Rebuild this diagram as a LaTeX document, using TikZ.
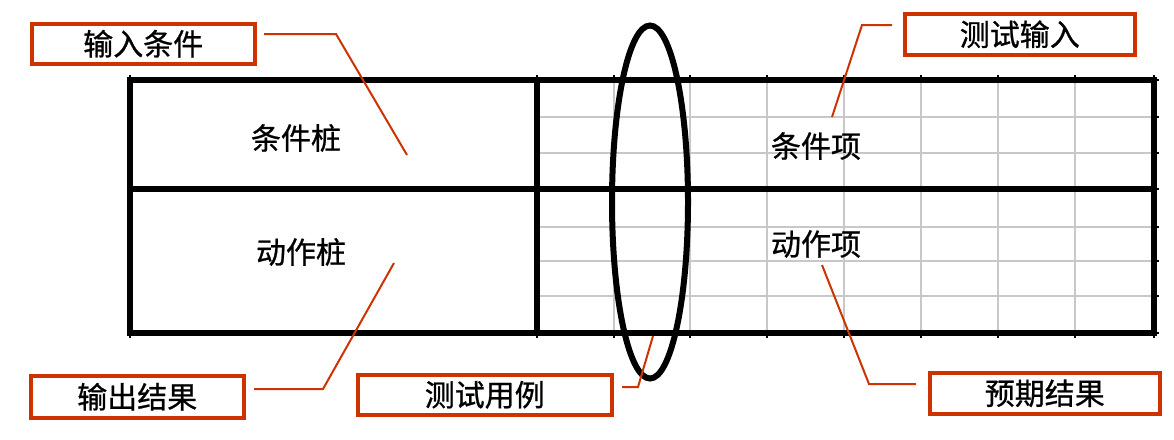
\documentclass[tikz,border=0pt]{standalone}
\usepackage{fontspec}
\usetikzlibrary{shapes.geometric}
\newfontfamily\cjk[FakeBold=0.8]{Noto Sans CJK SC}
\definecolor{lblred}{RGB}{204,51,0}
\definecolor{gridgray}{RGB}{200,200,200}
\begin{document}
\begin{tikzpicture}[x=1pt,y=-1pt,
  every node/.style={font=\cjk\fontsize{30}{34}\selectfont, inner sep=0pt},
  lblbox/.style={draw=lblred, line width=3.5pt, rectangle, anchor=north west},
  leader/.style={draw=lblred, line width=2pt},
  thickline/.style={line width=6pt, line cap=rect},
  gridline/.style={draw=gridgray, line width=2.2pt},
  tick/.style={line width=1.8pt}]
\useasboundingbox (0,0) rectangle (1174,439);
% grid (gray)
\foreach \x in {614,690,767,844,921,998,1075}
  \draw[gridline] (\x,80) -- (\x,333);
\foreach \y in {117,153,227,261,296}
  \draw[gridline] (537,\y) -- (1154,\y);
% ticks
\foreach \x in {130,537,614,690,767,844,921,998,1075,1154}{
  \draw[tick] (\x,75) -- (\x,80);
  \draw[tick] (\x,333) -- (\x,338);}
\foreach \y in {80,117,153,189,227,261,296,333}
  \draw[tick] (1154,\y) -- (1159,\y);
% thick table lines
\draw[thickline] (130,80) rectangle (1154,333);
\draw[thickline] (130,189) -- (1154,189);
\draw[thickline] (537,80) -- (537,333);
% ellipse
\node[draw, line width=6pt, shape=ellipse, minimum width=76pt, minimum height=353pt] (tc) at (650,202) {};
% table texts
\node (czz) at (296,138) {条件桩};
\node (dzz) at (301,252) {动作桩};
\node (czx) at (816,146) {条件项};
\node (dzx) at (816,244) {动作项};
% label boxes
\node[lblbox, minimum width=223pt, minimum height=40pt] (in) at (30,22) {};
\node at (in.center) {输入条件};
\node[lblbox, minimum width=230pt, minimum height=41pt] (ti) at (903,12) {};
\node at (ti.center) {测试输入};
\node[lblbox, minimum width=213pt, minimum height=42pt] (out) at (29,374) {};
\node at (out.center) {输出结果};
\node[lblbox, minimum width=254pt, minimum height=40pt] (case) at (356,373) {};
\node at (case.center) {测试用例};
\node[lblbox, minimum width=230pt, minimum height=41pt] (exp) at (928,371) {};
\node at (exp.center) {预期结果};
% leader coordinates
\coordinate (a1) at (264,34); \coordinate (a2) at (336,34); \coordinate (a3) at (407,155);
\coordinate (b1) at (892,25); \coordinate (b2) at (862,25); \coordinate (b3) at (832,117);
\coordinate (c1) at (254,389); \coordinate (c2) at (323,389); \coordinate (c3) at (394,263);
\coordinate (d1) at (622,387); \coordinate (d2) at (638,387); \coordinate (d3) at (653,336);
\coordinate (e1) at (916,384); \coordinate (e2) at (869,384); \coordinate (e3) at (822,265);
\draw[leader] (a1) -- (a2) -- (a3);
\draw[leader] (b1) -- (b2) -- (b3);
\draw[leader] (c1) -- (c2) -- (c3);
\draw[leader] (d1) -- (d2) -- (d3);
\draw[leader] (e1) -- (e2) -- (e3);
\end{tikzpicture}
\end{document}
